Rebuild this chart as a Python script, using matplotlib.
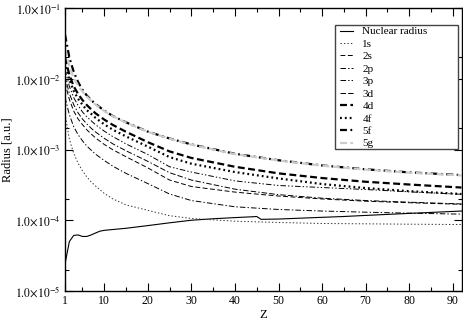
import numpy as np
import matplotlib
matplotlib.use("Agg")
import matplotlib.pyplot as plt
from matplotlib.patches import Rectangle
from matplotlib.ticker import FixedLocator, FuncFormatter, NullFormatter

plt.rcParams['font.family'] = 'serif'
plt.rcParams['font.serif'] = ['Liberation Serif', 'DejaVu Serif']
plt.rcParams['mathtext.fontset'] = 'stix'
plt.rcParams['lines.scale_dashes'] = False

# atomic number grid for the orbital curves
Z = [1, 2, 3, 4, 5, 6, 7, 8, 10, 12, 15, 20, 25, 30, 40, 50, 60, 70, 80, 92]

r_1s = [3.2e-3, 1.4e-3, 8.8e-4, 6.4e-4, 5.0e-4, 4.1e-4, 3.5e-4, 3.05e-4, 2.4e-4, 2.0e-4,
        1.65e-4, 1.38e-4, 1.16e-4, 1.06e-4, 9.7e-5, 9.3e-5, 9.0e-5, 8.9e-5, 8.8e-5, 8.7e-5]
r_2s = [8.8e-3, 5.1e-3, 3.5e-3, 2.7e-3, 2.25e-3, 1.9e-3, 1.66e-3, 1.46e-3, 1.18e-3, 9.9e-4,
        7.9e-4, 5.5e-4, 3.7e-4, 3.0e-4, 2.5e-4, 2.2e-4, 2.0e-4, 1.86e-4, 1.77e-4, 1.68e-4]
r_2p = [5.5e-3, 3.1e-3, 2.1e-3, 1.62e-3, 1.33e-3, 1.12e-3, 9.8e-4, 8.6e-4, 7.0e-4, 5.8e-4,
        4.6e-4, 3.3e-4, 2.35e-4, 1.9e-4, 1.55e-4, 1.42e-4, 1.35e-4, 1.3e-4, 1.26e-4, 1.22e-4]
r_3p = [1.35e-2, 7.8e-3, 5.4e-3, 4.2e-3, 3.4e-3, 2.9e-3, 2.55e-3, 2.24e-3, 1.82e-3, 1.52e-3,
        1.2e-3, 8.5e-4, 5.7e-4, 4.8e-4, 3.6e-4, 3.1e-4, 2.9e-4, 2.72e-4, 2.52e-4, 2.33e-4]
r_3d = [1.07e-2, 6.2e-3, 4.3e-3, 3.3e-3, 2.7e-3, 2.3e-3, 2.0e-3, 1.77e-3, 1.44e-3, 1.2e-3,
        9.6e-4, 6.8e-4, 4.7e-4, 3.7e-4, 2.75e-4, 2.3e-4, 2.05e-4, 1.9e-4, 1.8e-4, 1.7e-4]
r_4d = [2.0e-2, 1.14e-2, 7.8e-3, 6.1e-3, 5.0e-3, 4.25e-3, 3.7e-3, 3.25e-3, 2.65e-3, 2.22e-3,
        1.78e-3, 1.27e-3, 9.4e-4, 7.6e-4, 5.7e-4, 4.6e-4, 3.95e-4, 3.5e-4, 3.2e-4, 2.9e-4]
r_4f = [1.7e-2, 9.7e-3, 6.7e-3, 5.2e-3, 4.3e-3, 3.6e-3, 3.2e-3, 2.8e-3, 2.27e-3, 1.9e-3,
        1.53e-3, 1.1e-3, 7.8e-4, 6.3e-4, 4.8e-4, 3.9e-4, 3.25e-4, 2.85e-4, 2.58e-4, 2.35e-4]
r_5f = [4.2e-2, 2.0e-2, 1.25e-2, 9.0e-3, 7.0e-3, 5.8e-3, 5.0e-3, 4.4e-3, 3.55e-3, 2.97e-3,
        2.42e-3, 1.79e-3, 1.43e-3, 1.18e-3, 8.7e-4, 7.05e-4, 5.95e-4, 5.25e-4, 4.75e-4, 4.35e-4]
r_5g = [2.6e-2, 1.5e-2, 1.03e-2, 8.0e-3, 6.6e-3, 5.6e-3, 4.9e-3, 4.3e-3, 3.5e-3, 2.95e-3,
        2.4e-3, 1.78e-3, 1.42e-3, 1.17e-3, 8.6e-4, 7.0e-4, 5.9e-4, 5.2e-4, 4.7e-4, 4.3e-4]

# nuclear radius has its own grid (bump near Z=45)
z_nuc = [1, 2, 3, 4, 5, 6, 7, 8, 9, 10, 12, 15, 20, 25, 30, 35, 40, 44, 45, 46,
         50, 55, 60, 65, 70, 75, 80, 85, 92]
r_nuc = [2.4e-5, 5.0e-5, 6.1e-5, 6.2e-5, 5.9e-5, 5.9e-5, 6.2e-5, 6.6e-5, 7.0e-5, 7.2e-5,
         7.4e-5, 7.7e-5, 8.4e-5, 9.2e-5, 1.0e-4, 1.05e-4, 1.09e-4, 1.12e-4, 1.13e-4, 1.03e-4,
         1.04e-4, 1.07e-4, 1.1e-4, 1.13e-4, 1.17e-4, 1.21e-4, 1.25e-4, 1.29e-4, 1.35e-4]

x_major = [1, 10, 20, 30, 40, 50, 60, 70, 80, 90]
x_minor = [5, 15, 25, 35, 45, 55, 65, 75, 85]
y_major = [1e-5, 1e-4, 1e-3, 1e-2, 1e-1]
y_minor = [2e-5, 2e-4, 2e-3, 2e-2]

fig = plt.figure(figsize=(4.63, 3.27), dpi=100)
ax = fig.add_axes([65/463, 1-291/327, 396.5/463, 283/327])

ax.plot(z_nuc, r_nuc, color='black', lw=0.8, label='Nuclear radius')
ax.plot(Z, r_1s, color='#333333', lw=0.7, ls=(0, (1, 1.5)), label='1s')
ax.plot(Z, r_2s, color='black', lw=0.7, ls=(0, (3.5, 1.8)), label='2s')
ax.plot(Z, r_2p, color='black', lw=0.7, ls=(0, (4, 1.5, 1, 1.5)), label='2p')
ax.plot(Z, r_3p, color='black', lw=0.7, ls=(0, (4, 1.5, 1, 1.5, 1, 1.5)), label='3p')
ax.plot(Z, r_3d, color='black', lw=0.7, ls=(0, (4, 1.5, 4, 1.5, 1, 1.5)), label='3d')
ax.plot(Z, r_4d, color='black', lw=1.6, ls=(0, (5, 2.5)), label='4d')
ax.plot(Z, r_4f, color='black', lw=1.6, ls=(0, (1.3, 2.2)), label='4f')
ax.plot(Z, r_5f, color='black', lw=1.6, ls=(0, (5, 2.5, 1.3, 2.5)), label='5f')
ax.plot(Z, r_5g, color='#cccccc', lw=1.6, ls=(0, (5, 2.5)), label='5g')

ax.set_yscale('log')
ax.set_xlim(1, 92)
ax.set_ylim(1e-5, 1e-1)

ax.xaxis.set_major_locator(FixedLocator(x_major))
ax.xaxis.set_minor_locator(FixedLocator(x_minor))
ax.yaxis.set_major_locator(FixedLocator(y_major))
ax.yaxis.set_minor_locator(FixedLocator(y_minor))
ax.yaxis.set_minor_formatter(NullFormatter())
ax.yaxis.set_major_formatter(FuncFormatter(
    lambda v, p: r'$1.0{\times}10^{%d}$' % int(round(np.log10(v)))))

ax.tick_params(which='both', direction='in', top=True, right=True, labelsize=8.5, width=0.8)
ax.tick_params(which='major', length=5.5, pad=3)
ax.tick_params(which='minor', length=3)
for s in ax.spines.values():
    s.set_linewidth(1.0)

ax.set_xlabel('Z', fontsize=9)
ax.xaxis.set_label_coords(0.5, -0.065)
ax.set_ylabel('Radius [a.u.]', fontsize=9)
ax.yaxis.set_label_coords(-0.131, 0.5)

# legend box drawn by hand: it is wider than its contents in the original
box = Rectangle((335/463, 1-149/327), 123/463, 124/327, transform=fig.transFigure,
                facecolor='white', edgecolor='#444444', lw=1.0, zorder=4, clip_on=False)
ax.add_patch(box)

leg = ax.legend(loc='upper left', bbox_to_anchor=(338/463, 1-25/327),
                bbox_transform=fig.transFigure, borderaxespad=0, borderpad=0.15,
                fontsize=8, handlelength=1.2, handletextpad=0.85, labelspacing=0.24,
                frameon=False)
leg.set_zorder(5)

fig.savefig('out.png', dpi=100)
